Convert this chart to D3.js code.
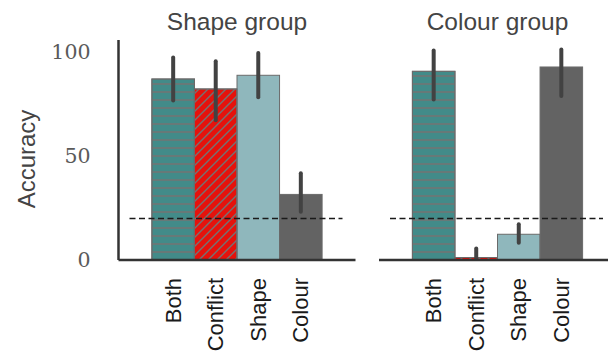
<!DOCTYPE html>
<html>
<head>
<meta charset="utf-8">
<script src="https://cdn.jsdelivr.net/npm/d3@7"></script>
<style>
  html, body { margin: 0; padding: 0; background: #fff; }
  svg { display: block; }
</style>
</head>
<body>
<svg id="chart" width="608" height="354"></svg>
<script>
// ---- data ----
const categories = ["Both", "Conflict", "Shape", "Colour"];
const groups = ["Shape group", "Colour group"];
const shapeGroupMean = [87.2, 82.4, 89.0, 31.6];
const shapeGroupLow  = [76.9, 67.3, 78.4, 23.2];
const shapeGroupHigh = [97.6, 95.8, 99.7, 41.8];
const colourGroupMean = [90.9, 1.2, 12.4, 93.0];
const colourGroupLow  = [77.3, 0.8, 8.3, 79.0];
const colourGroupHigh = [101.0, 5.6, 17.2, 101.4];
const chanceLevel = 20;
const yTicks = [0, 50, 100];
const yLabel = "Accuracy";

// ---- styles ----
const fills = { Both: "#428b89", Conflict: "#e5120c", Shape: "#8fb7bc", Colour: "#636363" };
const hatch = { Both: "url(#hatchH)", Conflict: "url(#hatchD)" };

const svg = d3.select("#chart");
const defs = svg.append("defs");
const pH = defs.append("pattern").attr("id", "hatchH").attr("patternUnits", "userSpaceOnUse")
  .attr("width", 8).attr("height", 8);
pH.append("line").attr("x1", 0).attr("x2", 8).attr("y1", 4).attr("y2", 4)
  .attr("stroke", "#737373").attr("stroke-width", 1.5);
const pD = defs.append("pattern").attr("id", "hatchD").attr("patternUnits", "userSpaceOnUse")
  .attr("width", 9).attr("height", 9);
pD.append("path").attr("d", "M-2,2 L2,-2 M0,9 L9,0 M7,11 L11,7")
  .attr("stroke", "#737373").attr("stroke-width", 1.4);

const plotTop = 40, plotBottom = 260;
const y = d3.scaleLinear().domain([0, 106]).range([plotBottom, plotTop]);

const panels = [
  { name: groups[0], x0: 118.5, mean: shapeGroupMean, low: shapeGroupLow, high: shapeGroupHigh, yaxis: true },
  { name: groups[1], x0: 379, mean: colourGroupMean, low: colourGroupLow, high: colourGroupHigh, yaxis: false }
];
const panelW = 237;

panels.forEach(p => {
  const x = d3.scaleBand().domain(categories).range([p.x0, p.x0 + panelW])
    .paddingInner(0).paddingOuter(0.785);
  const g = svg.append("g");
  const data = categories.map((c, i) => ({ c, m: p.mean[i], lo: p.low[i], hi: p.high[i] }));

  // bars
  g.selectAll("rect.bar").data(data).join("rect")
    .attr("x", d => x(d.c)).attr("width", x.bandwidth())
    .attr("y", d => y(d.m)).attr("height", d => y(0) - y(d.m))
    .attr("fill", d => fills[d.c]).attr("stroke", "#6a6a6a").attr("stroke-width", 1);
  g.selectAll("rect.hatch").data(data.filter(d => hatch[d.c])).join("rect")
    .attr("x", d => x(d.c)).attr("width", x.bandwidth())
    .attr("y", d => y(d.m)).attr("height", d => y(0) - y(d.m))
    .attr("fill", d => hatch[d.c]).attr("stroke", "#6a6a6a").attr("stroke-width", 1);

  // chance line
  g.append("line")
    .attr("x1", p.x0 + 11).attr("x2", p.x0 + panelW - 13)
    .attr("y1", y(chanceLevel)).attr("y2", y(chanceLevel))
    .attr("stroke", "#1a1a1a").attr("stroke-width", 1.5).attr("stroke-dasharray", "6,3.5");

  // error bars
  g.selectAll("line.err").data(data).join("line")
    .attr("x1", d => x(d.c) + x.bandwidth() / 2).attr("x2", d => x(d.c) + x.bandwidth() / 2)
    .attr("y1", d => y(d.lo)).attr("y2", d => y(d.hi))
    .attr("stroke", "#424242").attr("stroke-width", 4).attr("stroke-linecap", "round");

  // spines
  g.append("line").attr("x1", p.x0).attr("x2", p.x0 + panelW)
    .attr("y1", plotBottom).attr("y2", plotBottom).attr("stroke", "#333").attr("stroke-width", 2.5);
  if (p.yaxis) {
    g.append("line").attr("x1", p.x0).attr("x2", p.x0)
      .attr("y1", plotTop).attr("y2", plotBottom).attr("stroke", "#333").attr("stroke-width", 2.5);
    g.selectAll("text.yt").data(yTicks).join("text")
      .attr("x", p.x0 - 28).attr("y", d => y(d))
      .attr("text-anchor", "end").attr("dominant-baseline", "central")
      .attr("font-family", "DejaVu Serif").attr("font-size", 20.5).attr("fill", "#5a5a5a")
      .text(d => d);
  }

  // x tick labels
  g.selectAll("text.xt").data(categories).join("text")
    .attr("transform", d => `translate(${x(d) + x.bandwidth() / 2},278) rotate(-90)`)
    .attr("text-anchor", "end").attr("dominant-baseline", "central")
    .attr("font-family", "Liberation Sans, Arial, sans-serif").attr("font-size", 22).attr("fill", "#1a1a1a")
    .text(d => d);

  // title
  g.append("text").attr("x", p.x0 + panelW / 2).attr("y", 29.5)
    .attr("text-anchor", "middle")
    .attr("font-family", "Liberation Sans, Arial, sans-serif").attr("font-size", 24.5).attr("fill", "#444")
    .text(p.name);
});

svg.append("text")
  .attr("transform", `translate(26,${(plotTop + plotBottom) / 2 + 9}) rotate(-90)`)
  .attr("text-anchor", "middle").attr("dominant-baseline", "central")
  .attr("font-family", "Liberation Sans, Arial, sans-serif").attr("font-size", 24).attr("fill", "#444")
  .text(yLabel);
</script>
</body>
</html>
